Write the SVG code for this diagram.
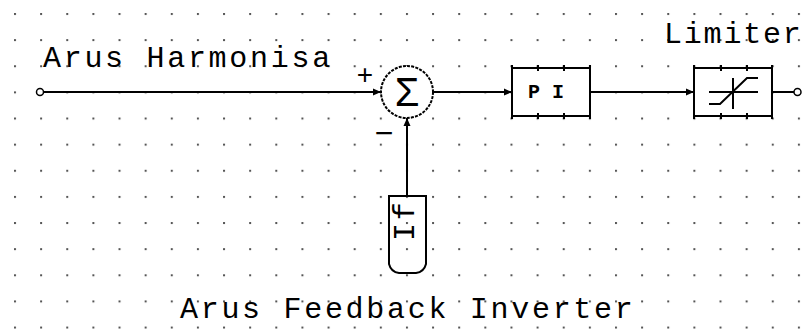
<svg xmlns="http://www.w3.org/2000/svg" width="803" height="329" viewBox="0 0 803 329">
<defs>
<pattern id="grid" patternUnits="userSpaceOnUse" x="14" y="13" width="26.13" height="26.13">
<rect x="0" y="0" width="2" height="2" fill="#555"/>
</pattern>
<marker id="arr" viewBox="0 0 8 8" refX="8" refY="4" markerWidth="8" markerHeight="8" markerUnits="userSpaceOnUse" orient="auto">
<path d="M0,0.5 L8,4 L0,7.5 Z" fill="#000"/>
</marker>
<style>
.ln{stroke:#000;stroke-width:2;fill:none}
.blk{stroke:#000;stroke-width:2;fill:#fff}
.lbl{font-family:"Liberation Mono","DejaVu Sans Mono",monospace;font-size:30px;fill:#000;letter-spacing:2.7px}
.tick{stroke:#000;stroke-width:2}
.sym{font-family:"Liberation Sans","DejaVu Sans",sans-serif;fill:#000}
</style>
</defs>
<rect width="803" height="329" fill="#fff"/>
<rect width="803" height="329" fill="url(#grid)"/>

<g id="connectors">
<circle cx="40" cy="92" r="3.5" fill="#fff" stroke="#000" stroke-width="1.5"/>
<line class="ln" x1="43.5" y1="92" x2="381" y2="92" marker-end="url(#arr)"/>
<line class="ln" x1="433" y1="92" x2="512" y2="92" marker-end="url(#arr)"/>
<line class="ln" x1="590" y1="92" x2="694" y2="92" marker-end="url(#arr)"/>
<line class="ln" x1="407" y1="196" x2="407" y2="118" marker-end="url(#arr)"/>
<line class="ln" x1="772" y1="92" x2="794" y2="92"/>
<circle cx="797.5" cy="92" r="3.5" fill="#fff" stroke="#000" stroke-width="1.5"/>
</g>

<g id="label-harmonisa">
<text class="lbl" x="43" y="67">Arus Harmonisa</text>
</g>

<g id="sum">
<circle cx="407" cy="92" r="26" fill="#fff" stroke="#000" stroke-width="2" stroke-dasharray="3 1.2"/>
<text class="sym" x="407" y="106" text-anchor="middle" font-size="40">Σ</text>
<text class="sym" x="365" y="84" text-anchor="middle" font-size="28">+</text>
<text class="sym" x="384" y="144" text-anchor="middle" font-size="32">−</text>
</g>

<g id="pi">
<rect class="blk" x="512" y="68" width="78" height="48"/>
<path class="tick" d="M512,65V119 M538,65V71 M564,65V71 M590,65V119 M538,113V119 M564,113V119"/>
<text x="552" y="98" text-anchor="middle" font-family="Liberation Mono, monospace" font-weight="bold" font-size="20" letter-spacing="12" fill="#000">PI</text>
</g>

<g id="limiter">
<rect class="blk" x="694" y="68" width="78" height="48"/>
<path class="tick" d="M694,65V119 M721,65V71 M747,65V71 M772,65V119 M721,113V119 M747,113V119"/>
<path class="ln" d="M709,92H758 M733,78V109 M709,104H720L747,78H758"/>
<text class="lbl" x="664" y="43" style="letter-spacing:1.8px">Limiter</text>
</g>

<g id="feedback">
<path d="M389,196H426V264Q424,272 416,273H399Q391,272 389,264Z" fill="none" stroke="#000" stroke-width="2"/>
<text class="lbl" transform="translate(414,241) rotate(-90)" x="0" y="0">If</text>
<text class="lbl" x="180" y="318">Arus Feedback Inverter</text>
</g>
</svg>
